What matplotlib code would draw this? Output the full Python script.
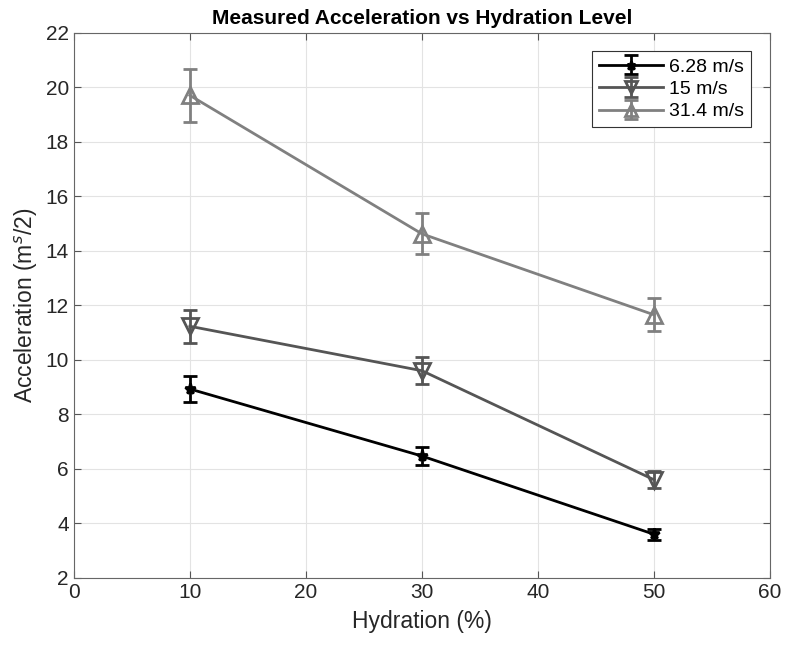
import matplotlib.pyplot as plt
import numpy as np

plt.rcParams['font.family'] = ['Liberation Sans', 'DejaVu Sans']

hydration = [10, 30, 50]
labels = ["6.28 m/s", "15 m/s", "31.4 m/s"]
accel_628 = [8.93, 6.47, 3.60]
err_628 = [0.46, 0.33, 0.21]
accel_15 = [11.23, 9.60, 5.60]
err_15 = [0.60, 0.49, 0.31]
accel_314 = [19.70, 14.62, 11.65]
err_314 = [0.98, 0.75, 0.60]

series = [
    (accel_628, err_628, "#000000", "*", 8, "full"),
    (accel_15, err_15, "#555555", "v", 11, "none"),
    (accel_314, err_314, "#808080", "^", 11, "none"),
]

fig = plt.figure(figsize=(7.85, 6.53), dpi=100)
ax = fig.add_axes([0.094, 0.115, 0.887, 0.835])

for (vals, errs, col, mk, ms, fill), lab in zip(series, labels):
    ax.errorbar(hydration, vals, yerr=errs, color=col, marker=mk, markersize=ms,
                fillstyle=fill, markeredgewidth=2, linewidth=2, elinewidth=2,
                capsize=5, capthick=2, label=lab)

ax.set_xlim(0, 60)
ax.set_ylim(2, 22)
ax.set_xticks(np.arange(0, 61, 10))
ax.set_yticks(np.arange(2, 23, 2))
ax.grid(True, color="#e3e3e3", linewidth=0.8)
ax.set_axisbelow(True)
ax.tick_params(direction="in", top=True, right=True, labelsize=15,
               color="#555555", length=5, labelcolor="#262626")
for sp in ax.spines.values():
    sp.set_color("#666666")

ax.set_xlabel("Hydration (%)", fontsize=16.5, color="#262626", labelpad=6)
ax.set_ylabel("Acceleration (m$^{s}$/2)", fontsize=16.5, color="#262626")
ax.set_title("Measured Acceleration vs Hydration Level", fontsize=15,
             fontweight="bold", pad=6)

leg = ax.legend(loc="upper right", fontsize=14, fancybox=False,
                edgecolor="#333333", framealpha=1, borderpad=0.35,
                labelspacing=0.25, handlelength=3.3, handletextpad=0.3,
                markerscale=0.8, bbox_to_anchor=(0.986, 0.984))
leg.get_frame().set_linewidth(0.8)

fig.savefig("out.png", dpi=100)
